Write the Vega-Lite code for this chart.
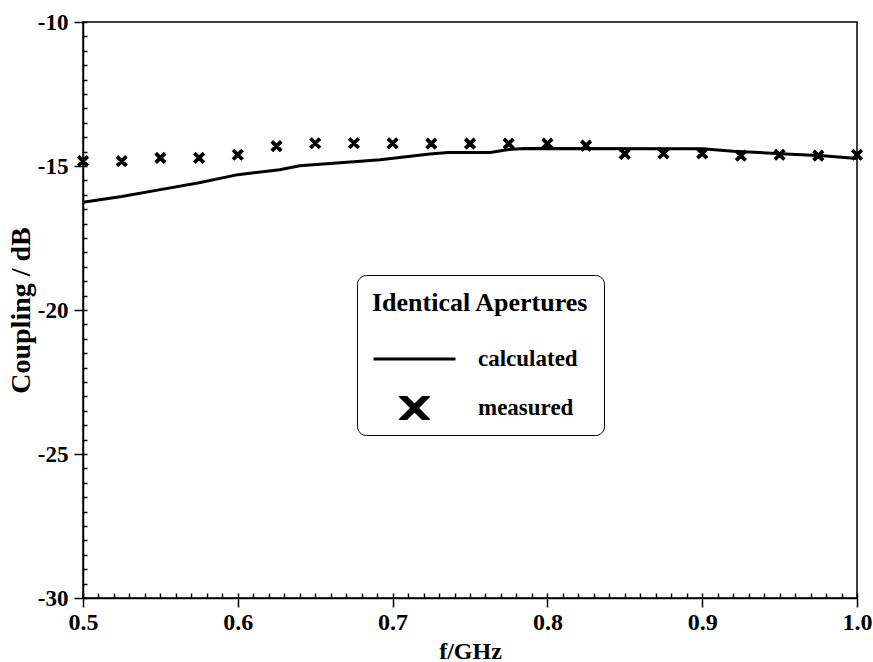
{
  "$schema": "https://vega.github.io/schema/vega-lite/v6.json",
  "width": 774,
  "height": 576,
  "autosize": {"type": "none"},
  "padding": {"left": 83, "top": 22, "right": 16, "bottom": 64},
  "background": "white",
  "config": {
    "view": {"stroke": "black", "strokeWidth": 1.5},
    "axis": {
      "grid": false,
      "domainColor": "black",
      "domainWidth": 1.5,
      "tickColor": "black",
      "tickWidth": 1.5,
      "labelFont": "Liberation Serif",
      "labelFontWeight": "bold",
      "labelColor": "black",
      "labelFontSize": 24,
      "titleFont": "Liberation Serif",
      "titleFontWeight": "bold",
      "titleColor": "black",
      "labelFlush": false,
      "labelOverlap": false
    },
    "legend": {
      "orient": "none",
      "legendX": 274,
      "legendY": 253,
      "strokeColor": "black",
      "fillColor": "white",
      "cornerRadius": 9,
      "padding": 15,
      "titleFont": "Liberation Serif",
      "titleFontWeight": "bold",
      "titleFontSize": 26,
      "titleColor": "black",
      "titleLimit": 400,
      "titlePadding": 31,
      "labelFont": "Liberation Serif",
      "labelFontWeight": "bold",
      "labelFontSize": 23,
      "labelColor": "black",
      "labelOffset": 21,
      "labelLimit": 300,
      "clipHeight": 24,
      "rowPadding": 25,
      "symbolSize": 6724,
      "symbolStrokeWidth": 3,
      "symbolStrokeColor": "black"
    }
  },
  "datasets": {
    "calc": [
      {"f": 0.5, "db": -16.26},
      {"f": 0.525, "db": -16.06},
      {"f": 0.55, "db": -15.82},
      {"f": 0.575, "db": -15.58},
      {"f": 0.6, "db": -15.3},
      {"f": 0.627, "db": -15.13},
      {"f": 0.64, "db": -14.99},
      {"f": 0.677, "db": -14.84},
      {"f": 0.692, "db": -14.78},
      {"f": 0.724, "db": -14.58},
      {"f": 0.736, "db": -14.53},
      {"f": 0.763, "db": -14.53},
      {"f": 0.775, "db": -14.43},
      {"f": 0.785, "db": -14.39},
      {"f": 0.9, "db": -14.4},
      {"f": 0.92, "db": -14.49},
      {"f": 0.954, "db": -14.58},
      {"f": 0.978, "db": -14.64},
      {"f": 1.0, "db": -14.74}
    ],
    "meas": [
      {"f": 0.5, "db": -14.83, "series": "measured"},
      {"f": 0.525, "db": -14.83, "series": "measured"},
      {"f": 0.55, "db": -14.72, "series": "measured"},
      {"f": 0.575, "db": -14.72, "series": "measured"},
      {"f": 0.6, "db": -14.61, "series": "measured"},
      {"f": 0.625, "db": -14.31, "series": "measured"},
      {"f": 0.65, "db": -14.21, "series": "measured"},
      {"f": 0.675, "db": -14.21, "series": "measured"},
      {"f": 0.7, "db": -14.21, "series": "measured"},
      {"f": 0.725, "db": -14.22, "series": "measured"},
      {"f": 0.75, "db": -14.22, "series": "measured"},
      {"f": 0.775, "db": -14.22, "series": "measured"},
      {"f": 0.8, "db": -14.22, "series": "measured"},
      {"f": 0.825, "db": -14.29, "series": "measured"},
      {"f": 0.85, "db": -14.58, "series": "measured"},
      {"f": 0.875, "db": -14.56, "series": "measured"},
      {"f": 0.9, "db": -14.56, "series": "measured"},
      {"f": 0.925, "db": -14.64, "series": "measured"},
      {"f": 0.95, "db": -14.61, "series": "measured"},
      {"f": 0.975, "db": -14.64, "series": "measured"},
      {"f": 1.0, "db": -14.61, "series": "measured"}
    ]
  },
  "layer": [
    {
      "data": {"name": "calc"},
      "mark": {"type": "line", "color": "black", "strokeWidth": 3},
      "encoding": {
        "x": {
          "field": "f", "type": "quantitative",
          "scale": {"domain": [0.5, 1.0], "nice": false, "zero": false},
          "axis": {
            "orient": "bottom",
            "values": [0.5, 0.6, 0.7, 0.8, 0.9, 1.0],
            "format": ".1f",
            "tickSize": 9,
            "labelPadding": 3,
            "title": "f/GHz",
            "titleFontSize": 24,
            "titlePadding": 5
          }
        },
        "y": {
          "field": "db", "type": "quantitative",
          "scale": {"domain": [-30, -10], "nice": false, "zero": false},
          "axis": {
            "orient": "left",
            "values": [-10, -15, -20, -25, -30],
            "labelExpr": "toString(datum.value)",
            "labelFontSize": 23,
            "tickSize": 9,
            "labelPadding": 6,
            "title": "Coupling / dB",
            "titleFontSize": 28,
            "titlePadding": 2
          }
        }
      }
    },
    {
      "data": {"name": "meas"},
      "mark": {"type": "point", "filled": false, "color": "black", "strokeWidth": 2.6, "size": 829, "opacity": 1},
      "encoding": {
        "x": {
          "field": "f", "type": "quantitative",
          "axis": {
            "orient": "bottom",
            "values": [0.5,0.51,0.52,0.53,0.54,0.55,0.56,0.57,0.58,0.59,0.6,0.61,0.62,0.63,0.64,0.65,0.66,0.67,0.68,0.69,0.7,0.71,0.72,0.73,0.74,0.75,0.76,0.77,0.78,0.79,0.8,0.81,0.82,0.83,0.84,0.85,0.86,0.87,0.88,0.89,0.9,0.91,0.92,0.93,0.94,0.95,0.96,0.97,0.98,0.99,1.0],
            "tickSize": -5,
            "labels": false,
            "domain": false,
            "title": null
          }
        },
        "y": {
          "field": "db", "type": "quantitative",
          "axis": {
            "orient": "left",
            "values": [-30,-29.5,-29,-28.5,-28,-27.5,-27,-26.5,-26,-25.5,-25,-24.5,-24,-23.5,-23,-22.5,-22,-21.5,-21,-20.5,-20,-19.5,-19,-18.5,-18,-17.5,-17,-16.5,-16,-15.5,-15,-14.5,-14,-13.5,-13,-12.5,-12,-11.5,-11,-10.5,-10],
            "tickSize": -4,
            "labels": false,
            "domain": false,
            "title": null
          }
        },
        "shape": {
          "field": "series", "type": "nominal",
          "scale": {
            "domain": ["calculated", "measured"],
            "range": ["stroke", "M-0.33,-0.33L0.33,0.33M-0.33,0.33L0.33,-0.33M-0.3,-0.36L0.36,0.3M-0.36,-0.3L0.3,0.36M-0.36,0.3L0.3,-0.36M-0.3,0.36L0.36,-0.3"]
          },
          "legend": {
            "title": "Identical Apertures"
          }
        }
      }
    }
  ],
  "resolve": {"axis": {"x": "independent", "y": "independent"}}
}
